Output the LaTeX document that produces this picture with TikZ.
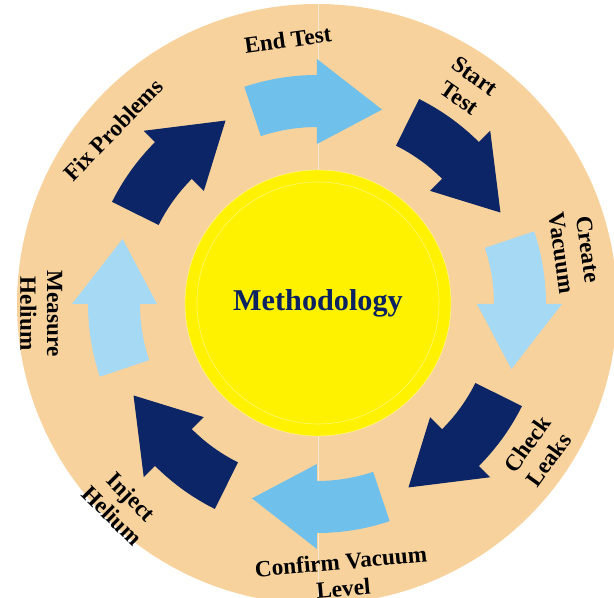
\documentclass[tikz,border=0pt]{standalone}
\usepackage{fontspec}
\setmainfont{Liberation Serif}
\definecolor{peach}{HTML}{F8D29C}
\definecolor{skyarrow}{HTML}{6FC0EA}
\definecolor{palearrow}{HTML}{A6D9F4}
\definecolor{navyarrow}{HTML}{0B2566}
\definecolor{navytext}{HTML}{0A2262}

\begin{document}
\begin{tikzpicture}[x=0.025cm, y=0.025cm,
		steplabel/.style={font=\fontsize{16.5}{19}\selectfont\bfseries, align=center, inner sep=0pt}]
		\useasboundingbox (-317,-294) rectangle (297,304);
		\clip (-317,-294) rectangle (297,304);
		\fill [peach] (0,0) circle [radius=300];
		\draw [white!55!peach, line width=0.4pt] (1,300) -- (1,-300);
		\fill [yellow, draw=yellow!40!white, line width=0.3pt] (1,1) circle [radius=133];
		\draw [yellow!55!white, line width=0.4pt] (1,1) circle [radius=121];
		\foreach \k/\col in {0/skyarrow, 1/navyarrow, 2/palearrow, 3/navyarrow, 4/skyarrow, 5/navyarrow, 6/palearrow, 7/navyarrow} {
			\begin{scope}[rotate=-45*\k]
				\fill [\col] (108.5:229) arc [start angle=108.5, end angle=90, radius=229] -- (90:245) -- (71.5:205) -- (90:160) -- (90:177) arc [start angle=90, end angle=108.5, radius=177] -- cycle;
			\end{scope}
		}
		\node [font=\fontsize{21.5}{24}\selectfont\bfseries, text=navytext] (method) at (1,1) {Methodology};
		\node [steplabel, rotate=8] (endtest) at (96.3:266) {End Test};
		\node [steplabel, rotate=-35] (starttest) at (55.3:264) {Start\\Test};
		\node [steplabel, rotate=-82] (vacuum) at (11.6:263) {Create\\Vacuum};
		\node [steplabel, rotate=54] (leaks) at (-33.8:266) {Check\\Leaks};
		\node [steplabel, rotate=5] (confirm) at (-84.7:272) {Confirm Vacuum\\Level};
		\node [steplabel, rotate=-45] (inject) at (-134:281) {Inject\\Helium};
		\node [steplabel, rotate=-90] (measure) at (-178:276) {Measure\\Helium};
		\node [steplabel, rotate=46] (fix) at (139.5:268) {Fix Problems};
	\end{tikzpicture}
\end{document}
